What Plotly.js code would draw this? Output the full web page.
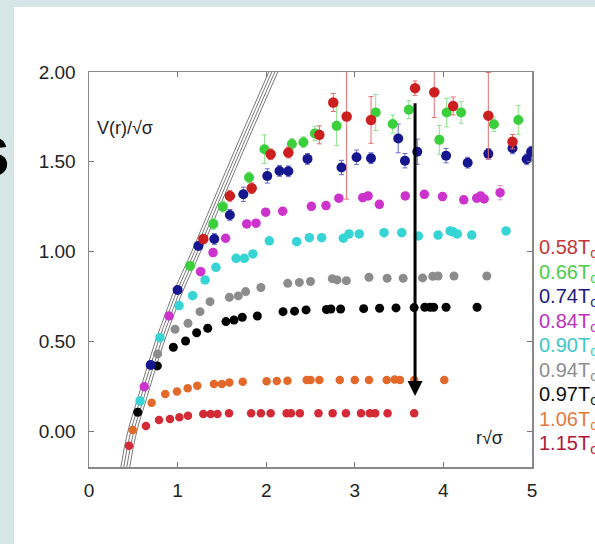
<!DOCTYPE html>
<html>
<head>
<meta charset="utf-8">
<script src="https://cdn.plot.ly/plotly-3.0.1.min.js"></script>
<style>html,body{margin:0;padding:0;background:#d6e6e6;}#chart{width:595px;height:544px;}</style>
</head>
<body>
<div id="chart"></div>
<script>
// ---- data ----
var bandX = [0.41, 0.45, 0.50, 0.58, 0.69, 0.80, 0.91, 1.01, 1.21, 1.45, 1.77, 2.08];
var bandY = [-0.20, -0.09, 0.02, 0.15, 0.33, 0.50, 0.65, 0.78, 1.00, 1.28, 1.65, 2.00];

var t058X = [1.29, 1.59, 1.836, 2.05, 2.25, 2.6, 2.757, 2.908, 3.183, 3.68, 3.897, 4.11, 4.507, 4.78];
var t058Y = [1.07, 1.31, 1.353, 1.542, 1.551, 1.65, 1.83, 1.752, 1.733, 1.91, 1.887, 1.811, 1.757, 1.612];
var t058E = [0.02, 0.03, 0.03, 0.03, 0.03, 0.05, 0.05, 0.46, 0.13, 0.04, 0.14, 0.05, 0.24, 0.04];

var t066X = [1.14, 1.403, 1.51, 1.806, 1.98, 2.29, 2.42, 2.55, 2.795, 3.236, 3.428, 3.61, 3.954, 4.037, 4.2, 4.57, 4.845];
var t066Y = [0.92, 1.154, 1.25, 1.412, 1.57, 1.599, 1.609, 1.658, 1.70, 1.775, 1.71, 1.79, 1.622, 1.774, 1.774, 1.709, 1.733];
var t066E = [0.02, 0.03, 0.03, 0.03, 0.08, 0.03, 0.03, 0.04, 0.11, 0.10, 0.05, 0.05, 0.08, 0.08, 0.06, 0.04, 0.08];

var t074X = [0.696, 1.0, 1.234, 1.414, 1.59, 1.742, 2.012, 2.15, 2.25, 2.466, 2.85, 3.02, 3.183, 3.49, 3.566, 3.705, 4.03, 4.274, 4.507, 4.78, 4.94, 4.99];
var t074Y = [0.368, 0.786, 1.031, 1.07, 1.204, 1.319, 1.421, 1.449, 1.447, 1.516, 1.468, 1.525, 1.52, 1.63, 1.506, 1.556, 1.534, 1.495, 1.544, 1.575, 1.514, 1.556];
var t074E = [0.01, 0.01, 0.02, 0.03, 0.03, 0.04, 0.04, 0.03, 0.03, 0.03, 0.04, 0.04, 0.03, 0.08, 0.04, 0.07, 0.04, 0.03, 0.03, 0.03, 0.03, 0.03];

var t084X = [0.624, 0.903, 1.26, 1.40, 1.542, 1.78, 1.885, 1.994, 2.186, 2.51, 2.675, 2.82, 3.09, 3.15, 3.277, 3.57, 3.785, 3.99, 4.23, 4.376, 4.42, 4.46, 4.64];
var t084Y = [0.247, 0.641, 0.888, 0.994, 1.074, 1.154, 1.158, 1.219, 1.225, 1.252, 1.256, 1.297, 1.30, 1.31, 1.263, 1.31, 1.319, 1.306, 1.288, 1.297, 1.31, 1.293, 1.328];
var t084E = [0.01, 0.01, 0.02, 0.02, 0.02, 0.02, 0.02, 0.02, 0.02, 0.02, 0.02, 0.02, 0.02, 0.02, 0.02, 0.02, 0.02, 0.02, 0.02, 0.02, 0.02, 0.02, 0.04];

var t090X = [0.576, 0.80, 1.016, 1.17, 1.31, 1.433, 1.66, 1.753, 1.85, 2.035, 2.344, 2.487, 2.626, 2.87, 2.935, 3.05, 3.33, 3.53, 3.717, 3.94, 4.075, 4.11, 4.157, 4.32, 4.707];
var t090Y = [0.168, 0.52, 0.699, 0.754, 0.842, 0.912, 0.962, 0.962, 0.987, 1.06, 1.055, 1.077, 1.077, 1.074, 1.098, 1.098, 1.105, 1.105, 1.087, 1.092, 1.115, 1.11, 1.098, 1.092, 1.115];

var t094X = [0.775, 0.971, 1.117, 1.253, 1.366, 1.584, 1.685, 1.768, 1.94, 2.243, 2.374, 2.50, 2.746, 2.80, 2.905, 3.16, 3.365, 3.546, 3.765, 3.88, 3.94, 4.12, 4.49];
var t094Y = [0.43, 0.567, 0.60, 0.665, 0.721, 0.745, 0.753, 0.777, 0.80, 0.823, 0.828, 0.833, 0.849, 0.842, 0.838, 0.857, 0.851, 0.851, 0.853, 0.862, 0.864, 0.864, 0.864];

var t097X = [0.55, 0.771, 0.952, 1.09, 1.215, 1.34, 1.546, 1.637, 1.73, 1.90, 2.19, 2.32, 2.45, 2.68, 2.73, 2.84, 3.10, 3.28, 3.465, 3.67, 3.79, 3.85, 3.89, 4.03, 4.38];
var t097Y = [0.105, 0.363, 0.467, 0.502, 0.548, 0.573, 0.61, 0.619, 0.634, 0.641, 0.665, 0.668, 0.675, 0.677, 0.68, 0.68, 0.682, 0.684, 0.686, 0.688, 0.69, 0.69, 0.69, 0.69, 0.69];

var t106X = [0.493, 0.707, 0.861, 0.993, 1.114, 1.222, 1.41, 1.50, 1.584, 1.735, 2.005, 2.12, 2.24, 2.457, 2.50, 2.60, 2.83, 3.00, 3.16, 3.36, 3.45, 3.51, 3.67, 4.01];
var t106Y = [0.006, 0.158, 0.207, 0.22, 0.238, 0.253, 0.262, 0.262, 0.27, 0.275, 0.278, 0.279, 0.28, 0.285, 0.285, 0.285, 0.285, 0.285, 0.285, 0.285, 0.287, 0.285, 0.285, 0.285];

var t115X = [0.451, 0.643, 0.79, 0.914, 1.02, 1.117, 1.29, 1.373, 1.45, 1.58, 1.83, 1.94, 2.05, 2.23, 2.28, 2.38, 2.59, 2.75, 2.90, 3.07, 3.17, 3.23, 3.37, 3.67];
var t115Y = [-0.081, 0.028, 0.062, 0.067, 0.077, 0.086, 0.095, 0.095, 0.095, 0.099, 0.1, 0.1, 0.1, 0.1, 0.1, 0.1, 0.1, 0.1, 0.1, 0.1, 0.1, 0.1, 0.1, 0.1];

var legendLabels = ['0.58T<sub>c</sub>', '0.66T<sub>c</sub>', '0.74T<sub>c</sub>', '0.84T<sub>c</sub>', '0.90T<sub>c</sub>', '0.94T<sub>c</sub>', '0.97T<sub>c</sub>', '1.06T<sub>c</sub>', '1.15T<sub>c</sub>'];
var legendColors = ['#c83434', '#4ccc4c', '#1c1c80', '#c030c0', '#3cc8c8', '#8e8e8e', '#111111', '#e07a40', '#b0183a'];

var arrowX = 3.68, arrowTop = 1.835, arrowTip = 0.195;

// ---- traces ----
var traces = [];
var offsets = [-0.05, -0.017, 0.017, 0.05];
offsets.forEach(function (o) {
  traces.push({x: bandX.map(function (v) { return v + o; }), y: bandY, mode: 'lines',
    line: {color: '#555', width: 0.8, shape: 'spline'}, hoverinfo: 'skip'});
});

function series(x, y, color, size, err, errColor) {
  var t = {x: x, y: y, mode: 'markers', type: 'scatter',
    marker: {color: color, size: size, line: {width: 0}}};
  if (err) t.error_y = {type: 'data', array: err, visible: true, color: errColor, thickness: 1, width: 2.5};
  return t;
}
traces.push(series(t115X, t115Y, '#d42a35', 8.5));
traces.push(series(t106X, t106Y, '#e2692a', 8.5));
traces.push(series(t097X, t097Y, '#000000', 9));
traces.push(series(t094X, t094Y, '#8c8c8c', 9));
traces.push(series(t090X, t090Y, '#36d4d4', 9.5));
traces.push(series(t084X, t084Y, '#cc33cc', 9.5, t084E, '#e090e0'));
traces.push(series(t074X, t074Y, '#16168e', 10, t074E, '#6a6ad0'));
traces.push(series(t066X, t066Y, '#3ccf3c', 10, t066E, '#8ee08e'));
traces.push(series(t058X, t058Y, '#cc2020', 10.5, t058E, '#e07070'));

var ax = {
  ticks: 'inside', ticklen: 5, tickwidth: 1, tickcolor: '#777',
  showline: true, linecolor: '#888', linewidth: 1.5, mirror: 'ticks',
  showgrid: false, zeroline: false,
  tickfont: {family: 'Liberation Sans, Arial, sans-serif', size: 19, color: '#222'}
};
var xaxis = Object.assign({}, ax, {range: [0, 5], tick0: 0, dtick: 1, ticklabelstandoff: 6});
var yaxis = Object.assign({}, ax, {range: [-0.2, 2.0], tick0: 0, dtick: 0.5, tickformat: '.2f', ticklabelstandoff: 8});

var annotations = [];
legendLabels.forEach(function (lab, i) {
  annotations.push({xref: 'paper', yref: 'paper', x: 1.011, y: (467 - 248.5 - 24.5 * i) / 395,
    xanchor: 'left', yanchor: 'middle', text: lab, showarrow: false,
    font: {family: 'Liberation Sans, Arial, sans-serif', size: 20, color: legendColors[i]}});
});
annotations.push({xref: 'paper', yref: 'paper', x: 0.014, y: (467 - 128) / 395, xanchor: 'left', yanchor: 'middle',
  text: 'V(r)/√σ', showarrow: false, font: {family: 'Liberation Sans, Arial, sans-serif', size: 18, color: '#222'}});
annotations.push({xref: 'paper', yref: 'paper', x: 0.868, y: (467 - 438) / 395, xanchor: 'left', yanchor: 'middle',
  text: 'r√σ', showarrow: false, font: {family: 'Liberation Sans, Arial, sans-serif', size: 18, color: '#222'}});
annotations.push({xref: 'paper', yref: 'paper', x: (12 - 89) / 443, y: (467 - 150) / 395, xanchor: 'right', yanchor: 'middle',
  text: 's', showarrow: false, font: {family: 'Liberation Sans, Arial, sans-serif', size: 74, color: '#000', weight: 'bold'}});
annotations.push({x: arrowX, y: arrowTip, ax: arrowX, ay: arrowTop, xref: 'x', yref: 'y', axref: 'x', ayref: 'y',
  text: '', showarrow: true, arrowhead: 2, arrowsize: 1, arrowwidth: 3, arrowcolor: '#000', standoff: 0});

var layout = {
  width: 595, height: 544,
  margin: {l: 89, r: 63, t: 72, b: 77, pad: 0},
  paper_bgcolor: '#d6e6e6', plot_bgcolor: '#ffffff',
  showlegend: false,
  xaxis: xaxis, yaxis: yaxis,
  annotations: annotations,
  shapes: [{type: 'rect', xref: 'paper', yref: 'paper', x0: (14 - 89) / 443, x1: 1.3, y0: -0.3, y1: (467 - 7) / 395,
    fillcolor: '#ffffff', line: {width: 0}, layer: 'below'}]
};

Plotly.newPlot('chart', traces, layout, {displayModeBar: false, staticPlot: true});
</script>
</body>
</html>
